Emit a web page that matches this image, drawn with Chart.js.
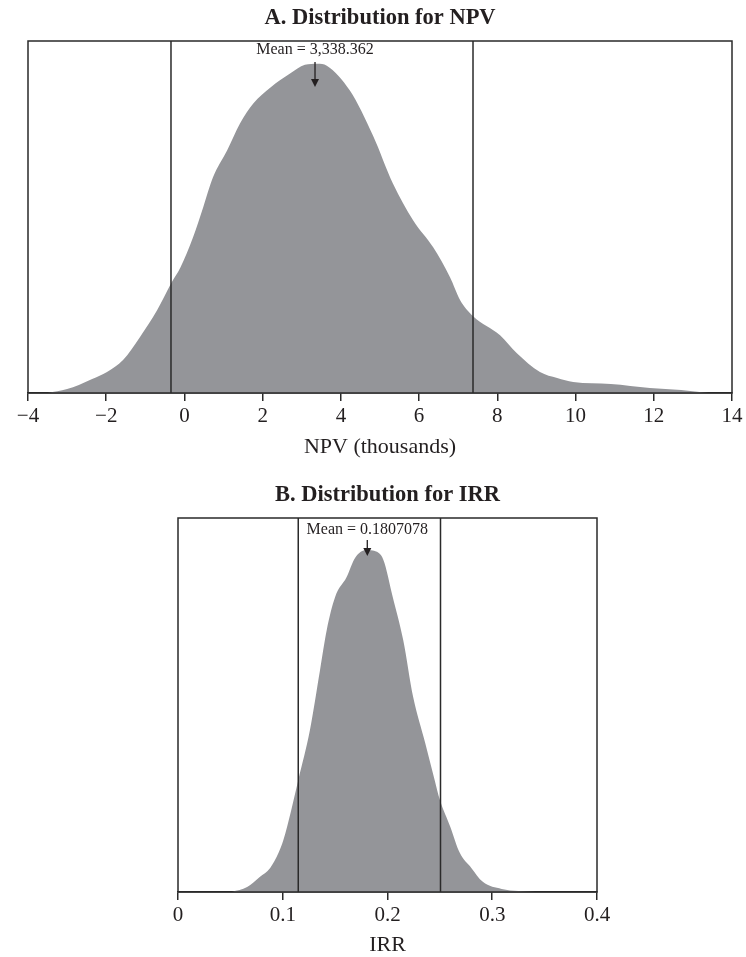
<!DOCTYPE html>
<html>
<head>
<meta charset="utf-8">
<script src="https://cdn.jsdelivr.net/npm/chart.js@4.4.1/dist/chart.umd.min.js"></script>
<style>
  html, body { margin: 0; padding: 0; background: #ffffff; overflow: hidden; }
  .wrap { position: absolute; left: 0; width: 746px; }
  #wrapA { top: 0; height: 470px; }
  #wrapB { top: 466px; height: 491px; }
</style>
</head>
<body>
<div class="wrap" id="wrapA"><canvas id="chartA" width="746" height="470"></canvas></div>
<div class="wrap" id="wrapB"><canvas id="chartB" width="746" height="491"></canvas></div>
<script>
// ---------- DATA ----------
// Panel A: NPV (thousands), estimated density
const npvX = [-3.5, -3.0, -2.7, -2.36, -1.98, -1.57, -1.14, -0.7, -0.34, -0.1, 0.22, 0.48, 0.73, 1.09, 1.42, 1.76, 2.2, 2.7, 3.08, 3.4, 3.64, 4.23, 4.82, 5.33, 5.85, 6.36, 6.79, 7.05, 7.38, 8.07, 8.5, 9.09, 9.53, 9.94, 10.9, 11.9, 12.7, 13.4];
const npvDensity = [0, 0.0020, 0.0040, 0.0069, 0.0104, 0.0163, 0.0276, 0.0409, 0.0543, 0.0622, 0.0770, 0.0918, 0.1066, 0.1199, 0.1332, 0.1431, 0.1510, 0.1579, 0.1623, 0.1628, 0.1618, 0.1495, 0.1273, 0.1036, 0.0853, 0.0720, 0.0572, 0.0459, 0.0380, 0.0286, 0.0197, 0.0104, 0.0074, 0.0054, 0.0044, 0.0025, 0.0015, 0];
const npvPercentiles = [-0.344, 7.378];
const npvMean = 3.338362;
const npvMeanLabel = "Mean = 3,338.362";
const npvTitle = "A. Distribution for NPV";
const npvAxisTitle = "NPV (thousands)";
const npvRange = [-4, 14, 2];
const npvDensityMax = 0.174;

// Panel B: IRR, estimated density
const irrX = [0.0515, 0.066, 0.078, 0.088, 0.096, 0.1006, 0.1149, 0.126, 0.1356, 0.142, 0.150, 0.161, 0.169, 0.180, 0.188, 0.196, 0.205, 0.215, 0.2245, 0.236, 0.245, 0.250, 0.260, 0.269, 0.280, 0.291, 0.309, 0.341];
const irrDensity = [0, 0.13, 0.40, 0.64, 1.04, 1.38, 2.98, 4.31, 5.90, 6.96, 7.84, 8.37, 8.88, 9.09, 9.06, 8.83, 7.84, 6.70, 5.18, 3.96, 2.98, 2.45, 1.73, 1.04, 0.64, 0.27, 0.08, 0];
const irrPercentiles = [0.1148, 0.2506];
const irrMean = 0.1807078;
const irrMeanLabel = "Mean = 0.1807078";
const irrTitle = "B. Distribution for IRR";
const irrAxisTitle = "IRR";
const irrRange = [0, 0.4, 0.1];
const irrDensityMax = 9.94;

// ---------- STYLE ----------
const FONT = "'Liberation Serif', 'Times New Roman', serif";
const INK = '#231f20';
const FILL = '#949599';
const LINE = '#2a2a2a';

const framePlugin = {
  id: 'frameBox',
  afterDatasetsDraw(chart) {
    const a = chart.chartArea, ctx = chart.ctx;
    ctx.save();
    ctx.strokeStyle = LINE;
    ctx.lineWidth = 1.5;
    ctx.strokeRect(a.left, a.top, a.right - a.left, a.bottom - a.top);
    ctx.restore();
  }
};

const meanPlugin = {
  id: 'meanMarker',
  afterDraw(chart, args, opts) {
    if (!opts || opts.value === undefined) return;
    const ctx = chart.ctx, a = chart.chartArea;
    const x = chart.scales.x.getPixelForValue(opts.value);
    ctx.save();
    ctx.fillStyle = INK;
    ctx.strokeStyle = INK;
    ctx.font = '16px ' + FONT;
    ctx.textAlign = 'center';
    ctx.textBaseline = 'middle';
    ctx.fillText(opts.label, x, a.top + opts.textOffset);
    const y1 = a.top + opts.arrowStart, y2 = a.top + opts.arrowEnd;
    ctx.lineWidth = 1.3;
    ctx.beginPath();
    ctx.moveTo(x, y1);
    ctx.lineTo(x, y2 - 5);
    ctx.stroke();
    ctx.beginPath();
    ctx.moveTo(x - 4, y2 - 8);
    ctx.lineTo(x + 4, y2 - 8);
    ctx.lineTo(x, y2);
    ctx.closePath();
    ctx.fill();
    ctx.restore();
  }
};

function fmtTick(v) {
  const r = Math.round(v * 1000) / 1000;
  const s = String(Math.abs(r));
  return r < 0 ? '\u2212' + s : s;
}

function makeChart(id, cfg) {
  const densityPts = cfg.xs.map((x, i) => ({ x: x, y: cfg.ys[i] }));
  const lineSets = cfg.pcts.map(p => ({
    data: [{ x: p, y: 0 }, { x: p, y: cfg.ymax }],
    borderColor: LINE,
    borderWidth: 1.5,
    pointRadius: 0,
    fill: false,
    order: 0
  }));
  return new Chart(document.getElementById(id), {
    type: 'line',
    data: {
      datasets: [{
        data: densityPts,
        backgroundColor: FILL,
        borderColor: FILL,
        borderWidth: 0,
        pointRadius: 0,
        fill: 'origin',
        cubicInterpolationMode: 'monotone',
        order: 1
      }].concat(lineSets)
    },
    options: {
      responsive: false,
      animation: false,
      devicePixelRatio: 1,
      layout: { padding: { left: cfg.padLeft, right: cfg.padRight, top: 0, bottom: 0 } },
      plugins: {
        legend: { display: false },
        tooltip: { enabled: false },
        title: {
          display: true,
          text: cfg.title,
          fullSize: false,
          color: INK,
          font: { family: FONT, size: 22.5, weight: 'bold', lineHeight: 1.2 },
          padding: { top: cfg.titlePadTop, bottom: 9.5 }
        },
        meanMarker: {
          value: cfg.mean,
          label: cfg.meanLabel,
          textOffset: cfg.meanTextOffset,
          arrowStart: cfg.arrowStart,
          arrowEnd: cfg.arrowEnd
        }
      },
      scales: {
        x: {
          type: 'linear',
          min: cfg.range[0],
          max: cfg.range[1],
          afterFit: (s) => { s.height = cfg.xHeight; },
          ticks: {
            stepSize: cfg.range[2],
            color: INK,
            padding: 3,
            font: { family: FONT, size: 21, lineHeight: 1.2 },
            callback: (v) => fmtTick(v),
            maxRotation: 0,
            autoSkip: false
          },
          grid: { drawOnChartArea: false, drawTicks: true, tickLength: 8, color: LINE, lineWidth: 1.5 },
          border: { display: true, color: LINE, width: 1.5 },
          title: {
            display: true,
            text: cfg.axisTitle,
            color: INK,
            font: { family: FONT, size: 22, lineHeight: 1 },
            padding: { top: 0, bottom: cfg.axisTitlePadBottom }
          }
        },
        y: {
          display: false,
          min: 0,
          max: cfg.ymax
        }
      }
    },
    plugins: [framePlugin, meanPlugin]
  });
}

makeChart('chartA', {
  xs: npvX, ys: npvDensity, pcts: npvPercentiles, ymax: npvDensityMax,
  mean: npvMean, meanLabel: npvMeanLabel, title: npvTitle, axisTitle: npvAxisTitle,
  range: npvRange,
  padLeft: 28, padRight: 14, titlePadTop: 4.5, xHeight: 77, axisTitlePadBottom: 12,
  meanTextOffset: 9, arrowStart: 21, arrowEnd: 46
});

makeChart('chartB', {
  xs: irrX, ys: irrDensity, pcts: irrPercentiles, ymax: irrDensityMax,
  mean: irrMean, meanLabel: irrMeanLabel, title: irrTitle, axisTitle: irrAxisTitle,
  range: irrRange,
  padLeft: 178, padRight: 149, titlePadTop: 15.5, xHeight: 65, axisTitlePadBottom: 1,
  meanTextOffset: 12, arrowStart: 22, arrowEnd: 38
});
</script>
</body>
</html>
